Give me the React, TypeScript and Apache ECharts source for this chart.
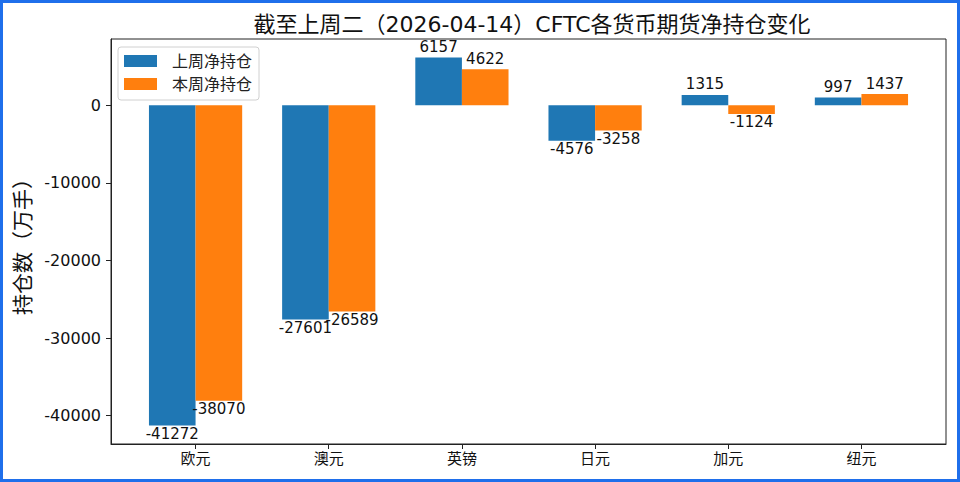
import { useEffect, useRef } from 'react';
import * as echarts from 'echarts';

const categories = ['欧元', '澳元', '英镑', '日元', '加元', '纽元'];
const lastWeek = [-41272, -27601, 6157, -4576, 1315, 997];
const thisWeek = [-38070, -26589, 4622, -3258, -1124, 1437];
const seriesNames = ['上周净持仓', '本周净持仓'];
const yTicks = [-40000, -30000, -20000, -10000, 0];
const xTicks = [0, 1, 2, 3, 4, 5];

const colors = ['#1f77b4', '#ff7f0e'];
const FONT = '"DejaVu Sans", "Noto Sans CJK JP", "Noto Sans CJK SC", sans-serif';
const BAR = 0.35;

export default function App() {
  const chartRef = useRef<HTMLDivElement>(null);

  useEffect(() => {
    if (!chartRef.current) return;
    const chart = echarts.init(chartRef.current, null, { renderer: 'svg' });

    // grouped bars drawn through the axes' scales (matplotlib-like offsets)
    const renderBar = (params: any, api: any) => {
      const i = api.value(0) as number;
      const v = api.value(1) as number;
      const si = params.seriesIndex;
      const x0 = si === 0 ? i - BAR : i;
      const a = api.coord([x0, 0]);
      const b = api.coord([x0 + BAR, v]);
      const top = Math.min(a[1], b[1]);
      const up = v >= 0;
      return {
        type: 'group',
        children: [
          {
            type: 'rect',
            shape: { x: a[0], y: top, width: b[0] - a[0], height: Math.abs(a[1] - b[1]) },
            style: { fill: colors[si] },
          },
          {
            type: 'text',
            x: (a[0] + b[0]) / 2,
            y: up ? b[1] - 3 : b[1] + 1,
            style: {
              text: String(v),
              fill: '#111',
              fontSize: 15,
              fontFamily: FONT,
              align: 'center',
              verticalAlign: up ? 'bottom' : 'top',
              textAlign: 'center',
              textVerticalAlign: up ? 'bottom' : 'top',
            },
          },
        ],
      };
    };

    const option: any = {
      animation: false,
      textStyle: { fontFamily: FONT },
      title: {
        text: '截至上周二（2026-04-14）CFTC各货币期货净持仓变化',
        left: 527,
        top: 8,
        textAlign: 'center',
        textStyle: { fontSize: 22, fontWeight: 'normal', color: '#111', fontFamily: FONT },
      },
      legend: {
        orient: 'vertical',
        left: 118,
        top: 47,
        data: seriesNames.map((n) => ({ name: n, icon: 'rect' })),
        itemWidth: 33,
        itemHeight: 12,
        itemGap: 7,
        padding: [6, 7, 8, 6],
        backgroundColor: '#fff',
        borderColor: '#d0d0d0',
        borderWidth: 1,
        borderRadius: 3,
        textStyle: { fontSize: 16, color: '#222', fontFamily: FONT, padding: [0, 0, 0, 10] },
      },
      grid: {
        left: 111,
        right: 14,
        top: 39,
        bottom: 38,
        show: true,
        borderColor: '#222',
        borderWidth: 1,
        backgroundColor: 'transparent',
      },
      xAxis: {
        type: 'value',
        min: -0.635,
        max: 5.635,
        splitLine: { show: false },
        axisLine: { show: true, onZero: false, lineStyle: { color: '#222' } },
        axisTick: { show: true, length: 5, customValues: xTicks, lineStyle: { color: '#222' } },
        axisLabel: {
          customValues: xTicks,
          formatter: (v: number) => categories[Math.round(v)] ?? '',
          fontSize: 15,
          color: '#111',
          margin: 7,
          fontFamily: FONT,
        },
      },
      yAxis: {
        type: 'value',
        min: -43643,
        max: 8528,
        name: '持仓数（万手）',
        nameLocation: 'middle',
        nameGap: 77,
        nameTextStyle: { fontSize: 21, color: '#111', fontFamily: FONT },
        splitLine: { show: false },
        axisLine: { show: true, onZero: false, lineStyle: { color: '#222' } },
        axisTick: { show: true, length: 5, customValues: yTicks, lineStyle: { color: '#222' } },
        axisLabel: {
          customValues: yTicks,
          formatter: (v: number) => String(v),
          fontSize: 16,
          color: '#111',
          margin: 10,
          fontFamily: FONT,
        },
      },
      series: [lastWeek, thisWeek].map((vals, si) => ({
        name: seriesNames[si],
        type: 'custom',
        itemStyle: { color: colors[si] },
        renderItem: renderBar,
        clip: false,
        data: vals.map((v, i) => [i, v]),
      })),
    };

    chart.setOption(option);
    return () => chart.dispose();
  }, []);

  return (
    <div style={{ position: 'fixed', left: 0, top: 0, width: 960, height: 482, background: '#fff' }}>
      <div ref={chartRef} style={{ position: 'absolute', left: 0, top: 0, width: 960, height: 482 }} />
      <div
        style={{
          position: 'absolute',
          inset: 0,
          border: '3px solid #1f6feb',
          boxSizing: 'border-box',
          pointerEvents: 'none',
        }}
      />
    </div>
  );
}
